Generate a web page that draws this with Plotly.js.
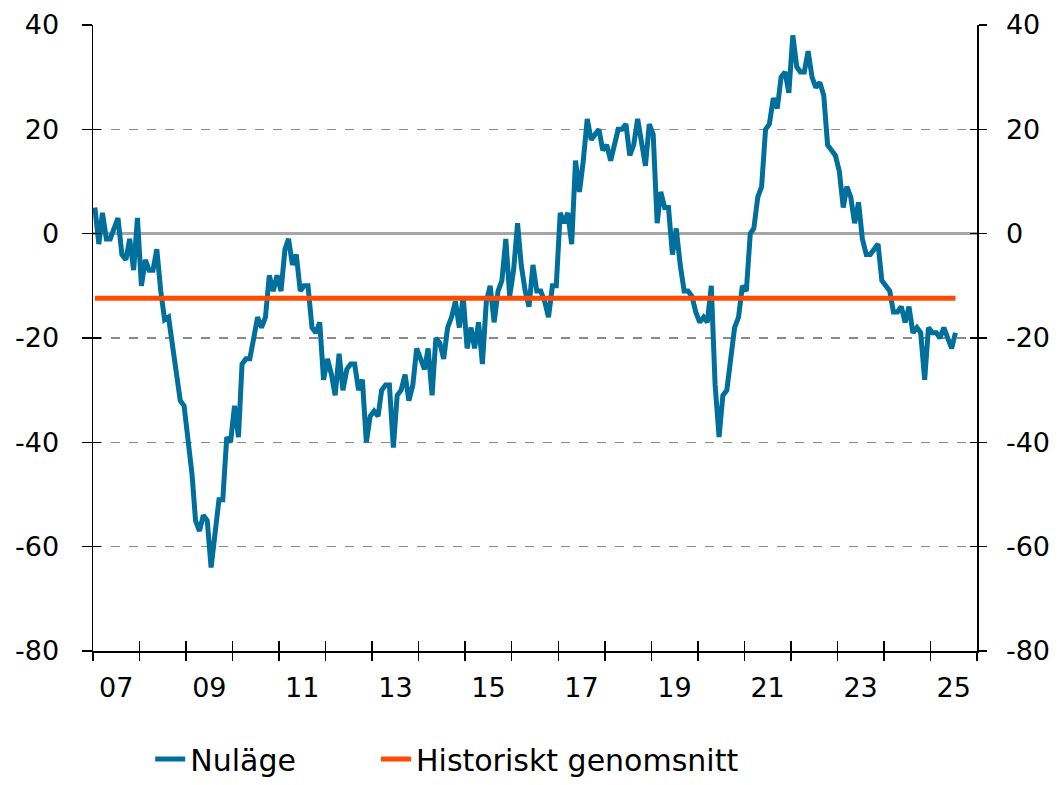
<!DOCTYPE html>
<html>
<head>
<meta charset="utf-8">
<script src="https://cdn.plot.ly/plotly-3.0.1.min.js"></script>
<style>html,body{margin:0;padding:0;background:#fff;}#chart{width:1063px;height:785px;}</style>
</head>
<body>
<div id="chart"></div>
<script>
// Monthly values, Jan 2007 onward
const startYear = 2007;
const nulage = [
  5, -2, 4, -1, -1, 1, 3, -4, -5, -1, -7, 3,
  -10, -5, -7, -7, -3, -11, -16.5, -16, -22, -27, -32, -33,
  -40, -46, -55, -57, -54, -55, -64, -57, -51, -51, -39, -40,
  -33, -39, -25, -24, -24, -20, -16, -18, -16, -8, -11, -8,
  -11, -3, -1, -6, -4, -11, -10, -10, -18, -19, -17, -28,
  -24, -27, -31, -23, -30, -26, -25, -25, -30, -28, -40, -35,
  -34, -35, -30, -29, -29, -41, -31, -30, -27, -32, -29, -22,
  -24, -26, -22, -31, -20, -21, -24, -18, -16, -13, -18, -12,
  -22, -18, -22, -17, -25, -13, -10, -17, -11, -9, -1, -12,
  -7, 2, -6, -11, -14, -6, -11, -11, -13, -16, -10, -10,
  4, 2, 4, -2, 14, 8, 14, 22, 18, 19, 20, 16,
  17, 14, 17, 20, 20, 21, 15, 17, 22, 18, 13, 21,
  19, 2, 8, 5, 5, -4, 1, -6, -11, -11, -12, -15,
  -17, -16, -17, -10, -29, -39, -31, -30, -24, -18, -16, -10,
  -11, 0, 1, 7, 9, 20, 21, 26, 24, 30, 31, 27,
  38, 32, 31, 31, 35, 30, 28, 29, 26.5, 17, 16, 15,
  12, 5, 9, 7, 2, 6, -1, -4, -4, -3, -2, -9,
  -10, -11, -15, -15, -14, -17, -14, -19, -18, -19, -28, -18,
  -19, -19, -20, -18, -20, -22, -19
];
const historisktSnitt = -12.4;
const yearLabels = ["07", "09", "11", "13", "15", "17", "19", "21", "23", "25"];
const yTicks = [-80, -60, -40, -20, 0, 20, 40];

function pad(n) { return (n < 10 ? "0" : "") + n; }
const dates = nulage.map((v, i) => {
  const y = startYear + Math.floor(i / 12);
  const m = (i % 12) + 1;
  return y + "-" + pad(m) + "-16";
});
const avgLine = nulage.map(() => historisktSnitt);
const labelVals = yearLabels.map(s => (2000 + parseInt(s, 10)) + "-07-02");
const yearTickVals = [];
for (let y = startYear; y <= 2026; y++) yearTickVals.push(y + "-01-01");
const yTickText = yTicks.map(v => String(v));
const xRange = [startYear + "-01-01", "2026-01-01"];
const yRange = [-80, 40];

const blue = "#006f9c";
const orange = "#ff4b00";
const fontFam = "DejaVu Sans, Verdana, sans-serif";

const traces = [
  { x: dates, y: nulage, type: "scatter", mode: "lines", name: "Nuläge", legend: "legend",
    line: { color: blue, width: 5 }, hoverinfo: "skip" },
  { x: dates, y: avgLine, type: "scatter", mode: "lines", name: "Historiskt genomsnitt", legend: "legend2",
    line: { color: orange, width: 5 }, hoverinfo: "skip" },
  { x: [dates[0]], y: [0], xaxis: "x2", yaxis: "y", mode: "lines", showlegend: false, hoverinfo: "skip" },
  { x: [dates[0]], y: [0], xaxis: "x3", yaxis: "y", mode: "lines", showlegend: false, hoverinfo: "skip" },
  { x: [dates[0]], y: [0], xaxis: "x", yaxis: "y2", mode: "lines", showlegend: false, hoverinfo: "skip" },
  { x: [dates[0]], y: [0], xaxis: "x", yaxis: "y3", mode: "lines", showlegend: false, hoverinfo: "skip" },
  { x: [dates[0]], y: [0], xaxis: "x", yaxis: "y4", mode: "lines", showlegend: false, hoverinfo: "skip" }
];

const baseX = { type: "date", range: xRange, showgrid: false, zeroline: false, fixedrange: true };
const baseY = { range: yRange, tickmode: "array", tickvals: yTicks, fixedrange: true,
  showgrid: false, zeroline: false, tickcolor: "#000", tickwidth: 1.5 };
const legendFont = { family: fontFam, size: 30, color: "#000" };

const layout = {
  width: 1063, height: 785,
  margin: { l: 93, r: 86, t: 25, b: 134, pad: 0, autoexpand: false },
  paper_bgcolor: "#fff", plot_bgcolor: "#fff",
  font: { family: fontFam, size: 27, color: "#000" },
  showlegend: true,
  legend: { orientation: "h", xref: "container", yref: "container",
    x: 0.1413, xanchor: "left", y: 0, yanchor: "bottom",
    font: legendFont, bgcolor: "rgba(0,0,0,0)" },
  legend2: { orientation: "h", xref: "container", yref: "container",
    x: 0.3537, xanchor: "left", y: 0, yanchor: "bottom",
    font: legendFont, bgcolor: "rgba(0,0,0,0)" },
  xaxis: Object.assign({}, baseX, {
    tickmode: "array", tickvals: labelVals, ticktext: yearLabels,
    ticks: "", showline: true, linecolor: "#000", linewidth: 1.5,
    ticklabelstandoff: 12
  }),
  xaxis2: Object.assign({}, baseX, {
    overlaying: "x", anchor: "y", side: "bottom",
    tickmode: "array", tickvals: yearTickVals, ticks: "outside", ticklen: 9,
    tickwidth: 1.5, tickcolor: "#000", showticklabels: false, showline: false
  }),
  xaxis3: Object.assign({}, baseX, {
    overlaying: "x", anchor: "y", side: "bottom",
    tickmode: "array", tickvals: yearTickVals, ticks: "inside", ticklen: 10,
    tickwidth: 1.5, tickcolor: "#000", showticklabels: false, showline: false
  }),
  yaxis: Object.assign({}, baseY, {
    ticktext: yTickText, ticks: "outside", ticklen: 10,
    showline: true, linecolor: "#000", linewidth: 1.5,
    showgrid: true, gridcolor: "#8a8a8a", gridwidth: 1.5, griddash: "dash",
    zeroline: true, zerolinecolor: "#a6a6a6", zerolinewidth: 2.5,
    ticklabelstandoff: 17
  }),
  yaxis2: Object.assign({}, baseY, {
    overlaying: "y", side: "right", anchor: "x",
    ticktext: yTickText, ticks: "outside", ticklen: 8,
    showline: true, linecolor: "#000", linewidth: 1.5,
    ticklabelstandoff: 14
  }),
  yaxis3: Object.assign({}, baseY, {
    overlaying: "y", side: "left", anchor: "x",
    ticks: "inside", ticklen: 8, showticklabels: false, showline: false
  }),
  yaxis4: Object.assign({}, baseY, {
    overlaying: "y", side: "right", anchor: "x",
    ticks: "inside", ticklen: 7, showticklabels: false, showline: false
  })
};

Plotly.newPlot("chart", traces, layout, { staticPlot: true, displayModeBar: false });
</script>
</body>
</html>
